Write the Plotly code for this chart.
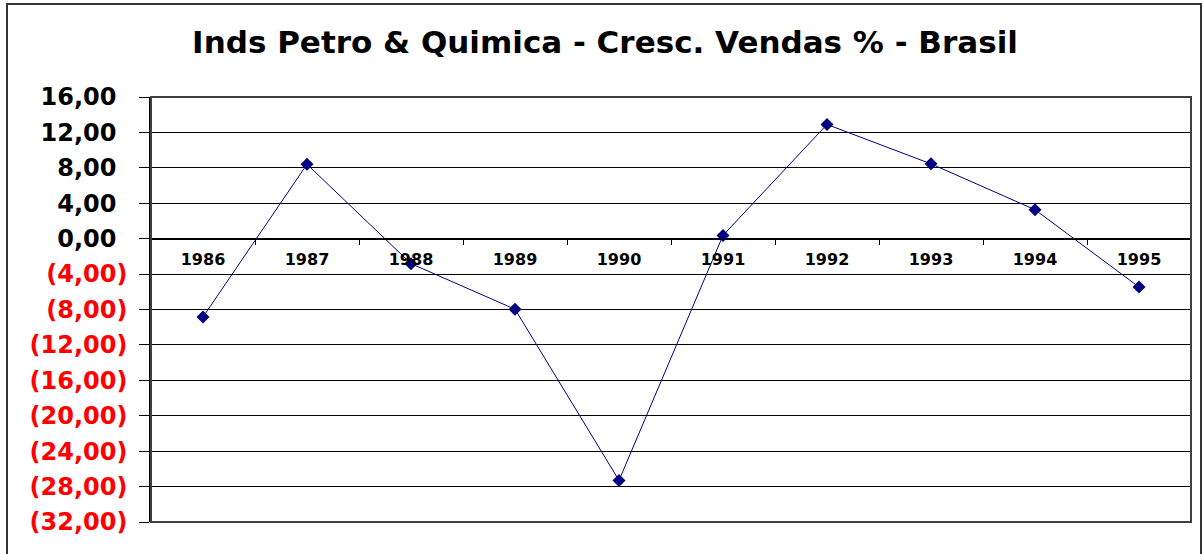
import plotly.graph_objects as go

years = ["1986", "1987", "1988", "1989", "1990", "1991", "1992", "1993", "1994", "1995"]
growth = [-8.84, 8.4, -2.82, -7.97, -27.3, 0.37, 12.9, 8.45, 3.27, -5.46]

ytick_vals = [16, 12, 8, 4, 0, -4, -8, -12, -16, -20, -24, -28, -32]

def fmt(v):
    s = f"{abs(v):.2f}".replace(".", ",")
    if v < 0:
        return f"<span style='color:#ff0000'>({s})</span>"
    return s + "<span style='color:rgba(0,0,0,0)'>)</span>"

ytick_text = [fmt(v) for v in ytick_vals]

W, H = 1202, 554
L, R, T, B = 151, 11, 97, 32
pw, ph = W - L - R, H - T - B
FONT = "DejaVu Sans, Liberation Sans, Arial"

fig = go.Figure()
fig.add_trace(go.Scatter(
    x=years, y=growth, mode="lines+markers",
    line=dict(color="#000080", width=1),
    marker=dict(symbol="diamond", size=10, color="#000080"),
    showlegend=False, cliponaxis=False,
))

ymin, ymax = -32, 16
zero_pos = (0 - ymin) / (ymax - ymin)

fig.update_layout(
    width=W, height=H,
    margin=dict(l=L, r=R, t=T, b=B, autoexpand=False),
    paper_bgcolor="white", plot_bgcolor="white",
    title=dict(text="<b>Inds Petro &amp; Quimica - Cresc. Vendas % - Brasil</b>",
               x=605 / W, xanchor="center", y=1 - 42 / H, yanchor="middle",
               font=dict(family=FONT, size=31, color="black")),
    xaxis=dict(
        type="category", range=[-0.5, 9.5],
        anchor="free", position=zero_pos, automargin=False,
        showline=True, linecolor="black", linewidth=1,
        ticks="outside", ticklen=5, tickcolor="black", tickson="boundaries",
        showgrid=False, zeroline=False, ticklabelstandoff=6,
        tickfont=dict(family=FONT, size=16, color="black", weight="bold"),
    ),
    yaxis=dict(
        range=[ymin, ymax], tickvals=ytick_vals, ticktext=ytick_text,
        automargin=False,
        showline=True, linecolor="black", linewidth=1.5,
        ticks="outside", ticklen=10, tickcolor="black",
        showgrid=True, gridcolor="black", gridwidth=1, zeroline=False,
        tickfont=dict(family=FONT, size=24, color="black", weight="bold"),
        ticklabelstandoff=7,
    ),
    shapes=[
        dict(type="rect", xref="paper", yref="paper", x0=0, x1=1, y0=0, y1=1,
             line=dict(color="#404040", width=2), layer="above"),
        dict(type="rect", xref="paper", yref="paper",
             x0=(7 - L) / pw, x1=(1201 - L) / pw,
             y0=-(H - T - ph + 20) / ph, y1=1 + (T - 4) / ph,
             line=dict(color="#333333", width=2)),
    ],
)

fig.write_html(
    "out.html",
    config={"displayModeBar": False},
    post_script="document.body.style.margin='0';document.body.style.overflow='hidden';",
)
